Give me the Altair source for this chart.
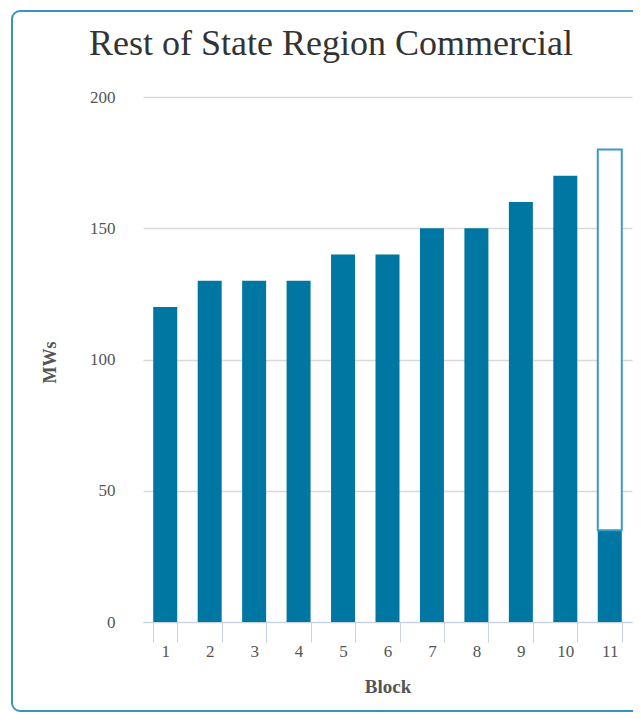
import altair as alt
import pandas as pd

blocks = ["1", "2", "3", "4", "5", "6", "7", "8", "9", "10", "11"]
filled = [120, 130, 130, 130, 140, 140, 150, 150, 160, 170, 35]
capacity = [120, 130, 130, 130, 140, 140, 150, 150, 160, 170, 180]

df = pd.DataFrame({"Block": blocks, "Filled": filled, "Capacity": capacity})

FONT = "Liberation Serif"
BAR = "#0077a2"
OUTLINE = "#3a9bc6"

xenc = alt.X(
    "Block:N",
    sort=blocks,
    scale=alt.Scale(paddingInner=0.46, paddingOuter=0.23),
    axis=alt.Axis(
        title="Block",
        labelAngle=0,
        tickBand="extent",
        tickSize=20,
        tickColor="#c5d3e2",
        domainColor="#c5d3e2",
        labelPadding=1,
        labelFont=FONT,
        labelFontSize=17,
        labelColor="#555555",
        titleFont=FONT,
        titleFontSize=19,
        titleFontWeight="bold",
        titleColor="#555555",
        titleY=64,
        titleBaseline="middle",
        grid=False,
    ),
)

yscale = alt.Scale(domain=[0, 200])
yaxis = alt.Axis(
    title="MWs",
    values=[0, 50, 100, 150, 200],
    domain=False,
    ticks=False,
    gridColor="#d9d9d9",
    gridWidth=1.5,
    labelPadding=28,
    labelFont=FONT,
    labelFontSize=17,
    labelColor="#555555",
    titleFont=FONT,
    titleFontSize=18,
    titleFontWeight="bold",
    titleColor="#555555",
    titleX=-93,
    titleY=265,
    titleBaseline="middle",
    titleAlign="center",
)

bars = alt.Chart(df).mark_bar(color=BAR).encode(
    x=xenc,
    y=alt.Y("Filled:Q", scale=yscale, axis=yaxis),
)

outline = alt.Chart(df).transform_filter(
    alt.datum.Capacity > alt.datum.Filled
).mark_bar(fill="white", stroke=OUTLINE, strokeWidth=2).encode(
    x=alt.X("Block:N", sort=blocks),
    y=alt.Y("Filled:Q"),
    y2="Capacity:Q",
)

frame = alt.Chart(alt.Data(values=[{}])).mark_rect(
    fillOpacity=0, stroke="#3a93bf", strokeWidth=2, cornerRadius=8
).encode(
    x=alt.value(-131), x2=alt.value(560), y=alt.value(-86), y2=alt.value(614)
)

chart = alt.layer(frame, bars, outline).properties(
    width=489,
    height=525,
    autosize=alt.AutoSizeParams(type="none"),
    padding={"left": 135, "top": 89, "right": 1, "bottom": 91},
    title=alt.TitleParams(
        "Rest of State Region Commercial",
        font=FONT,
        fontSize=36,
        fontWeight="normal",
        color="#333333",
        anchor="start",
        dx=78,
        dy=53,
        offset=0,
    ),
).configure_view(stroke=None)

chart.save("out.html", embed_options={"renderer": "svg", "actions": False})
